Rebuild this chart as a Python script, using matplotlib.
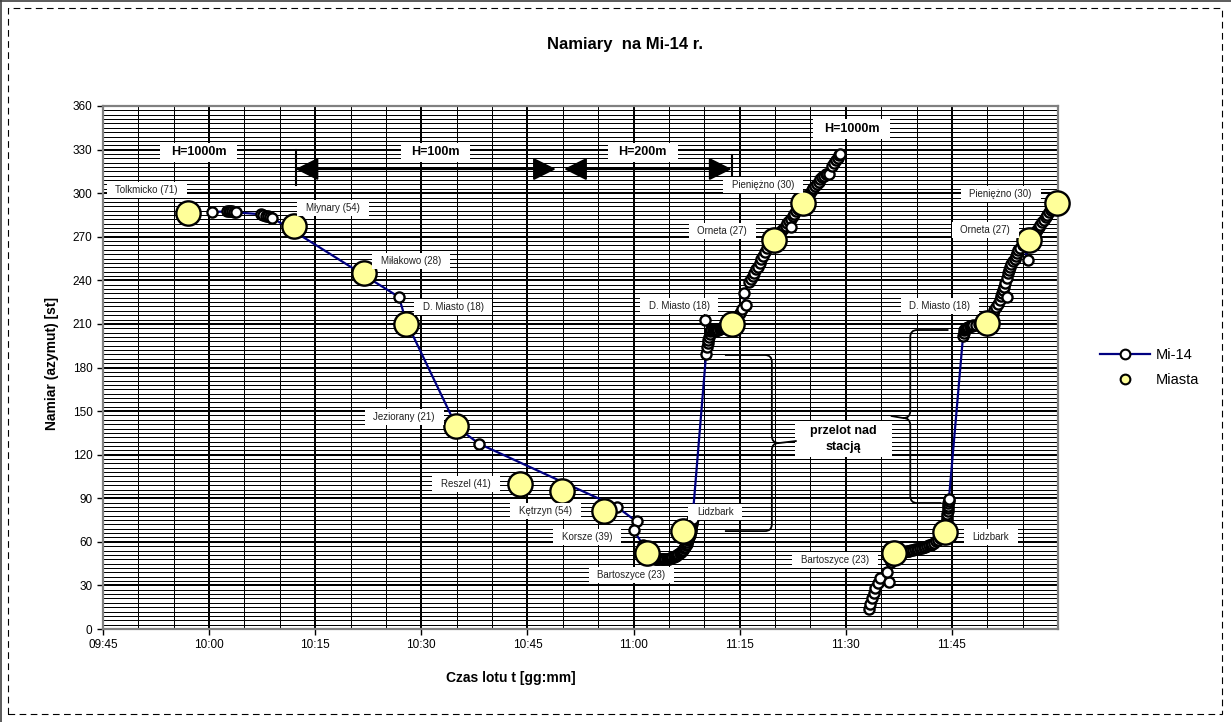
import matplotlib
matplotlib.use("Agg")
import numpy as np
import matplotlib.pyplot as plt
from matplotlib.lines import Line2D
from matplotlib.patches import FancyArrowPatch, Rectangle, PathPatch, ArrowStyle
from matplotlib.path import Path
from matplotlib.transforms import IdentityTransform
from matplotlib.ticker import MultipleLocator, FuncFormatter, FixedLocator

plt.rcParams['font.family'] = ['Liberation Sans', 'DejaVu Sans']

# ---------------- data ----------------
x_tick_labels = ["09:45", "10:00", "10:15", "10:30", "10:45", "11:00", "11:15", "11:30", "11:45"]
x_limits = ["09:45", "12:00"]
y_limits = [0, 360]

city_names = ["Tolkmicko (71)", "Młynary (54)", "Miłakowo (28)", "D. Miasto (18)",
              "Jeziorany (21)", "Reszel (41)", "Kętrzyn (54)", "Korsze (39)",
              "Bartoszyce (23)", "Lidzbark", "D. Miasto (18)", "Orneta (27)",
              "Pieniężno (30)", "Bartoszyce (23)", "Lidzbark", "D. Miasto (18)",
              "Orneta (27)", "Pieniężno (30)"]
city_times = ["09:56:57", "10:12:00", "10:21:52", "10:27:51", "10:34:55", "10:43:56",
              "10:49:57", "10:55:52", "11:01:57", "11:07:02", "11:13:56", "11:19:54",
              "11:23:55", "11:36:50", "11:44:00", "11:49:56", "11:55:57", "11:59:48"]
city_az = [286.5, 277.6, 244.8, 210, 139.7, 99.8, 94.8, 81.2, 52.5, 67.4, 209.7, 267.7,
           293, 52.3, 67, 210.4, 267.5, 293]

# Mi-14 bearings: segment 1 (10:00 - 11:29), break, segment 2 (11:33 - 12:00)
mi14_times_1 = [
    "10:00:24", "10:02:30", "10:02:45", "10:03:00", "10:03:15", "10:03:30", "10:03:45",
    "10:07:20", "10:07:40", "10:08:00", "10:08:20", "10:08:40", "10:08:57",
    "10:26:50", "10:27:50", "10:35:00", "10:38:10", "10:57:40", "11:00:25", "11:00:00",
    "11:01:20",
    "11:02:00", "11:02:10", "11:02:20", "11:02:30", "11:02:40", "11:02:50", "11:03:00",
    "11:03:10", "11:03:20", "11:03:30", "11:03:40", "11:03:50", "11:04:00", "11:04:10",
    "11:04:20", "11:04:30", "11:04:40", "11:04:50", "11:05:00", "11:05:10", "11:05:20",
    "11:05:30", "11:05:40", "11:05:50", "11:06:00", "11:06:10", "11:06:20", "11:06:30",
    "11:06:40", "11:06:50", "11:07:00", "11:07:08", "11:07:15", "11:07:22", "11:07:30",
    "11:07:35", "11:07:40", "11:07:45", "11:07:50", "11:07:55", "11:08:00", "11:08:03",
    "11:08:05", "11:08:08", "11:08:10", "11:08:13", "11:08:15", "11:08:18", "11:08:20",
    "11:10:15", "11:10:25", "11:10:30", "11:10:35", "11:10:40", "11:10:45", "11:10:05",
    "11:10:50", "11:11:00", "11:11:10", "11:11:20", "11:11:30", "11:11:40", "11:11:50",
    "11:12:00", "11:12:10", "11:12:20", "11:12:30", "11:12:40", "11:12:50", "11:13:00",
    "11:13:15", "11:13:30", "11:13:45", "11:14:00", "11:14:20", "11:14:40", "11:15:00",
    "11:15:20", "11:15:50", "11:15:35",
    "11:16:20", "11:16:35", "11:16:50", "11:17:05", "11:17:20", "11:17:35", "11:17:50",
    "11:18:05", "11:18:20", "11:18:35", "11:18:50", "11:19:05", "11:19:20", "11:19:50",
    "11:20:15", "11:20:30", "11:20:45", "11:21:00", "11:21:15", "11:21:30", "11:21:45",
    "11:22:00", "11:22:15", "11:22:30", "11:22:12", "11:22:45", "11:23:00", "11:23:15",
    "11:23:30", "11:23:55", "11:24:10", "11:24:25", "11:24:40", "11:24:55", "11:25:10",
    "11:25:25", "11:25:40", "11:25:55", "11:26:10", "11:26:25", "11:26:40", "11:26:55",
    "11:27:10", "11:27:20", "11:27:35", "11:28:05", "11:28:20", "11:28:35", "11:28:50",
    "11:29:02", "11:29:14",
]
mi14_az_1 = [
    287, 287.5, 287.5, 287.5, 287.5, 287, 286.8,
    285.5, 285, 284.5, 284, 283.5, 283,
    228.5, 212, 139, 127.5, 84, 74, 68,
    58,
    51, 50.5, 50, 49.5, 49, 49, 48.5,
    48.5, 48, 48, 48, 48, 48, 48,
    48, 48, 48.5, 48.5, 48.5, 49, 49,
    49.5, 49.5, 50, 50.5, 51, 51.5, 52,
    53, 53.5, 54.5, 55.5, 56.5, 57.5, 58.5,
    60, 61, 62, 63.5, 65, 66, 67.5,
    68.5, 70, 71, 72.5, 73.5, 75, 76,
    189, 194, 197, 199, 201, 203, 212.5,
    205, 206, 205.5, 205, 205, 205.5, 205.5,
    206, 206.5, 207, 207.5, 208, 208.5, 209,
    209.5, 210, 210.5, 211.5, 213, 215, 217.5,
    220, 223, 231,
    239, 241, 243, 245, 247.5, 249.5, 252,
    254.5, 257, 259.5, 262, 264, 265.5, 267.5,
    270, 271.5, 273, 274.5, 276, 277.5, 279.5,
    281, 282.5, 284, 276.5, 286, 287.5, 289,
    290.5, 293, 295, 296.5, 298, 300, 302,
    303.5, 305, 306.5, 308, 309.5, 311, 312,
    313, 313.2, 313.5, 318.5, 320.5, 322.5, 324.5,
    326, 327,
]
mi14_times_2 = [
    "11:33:14", "11:33:28", "11:33:42", "11:33:56", "11:34:10", "11:34:30", "11:34:50",
    "11:36:03", "11:35:49", "11:36:20",
    "11:37:00", "11:37:15", "11:37:30", "11:37:45", "11:38:00", "11:38:15", "11:38:30",
    "11:38:45", "11:39:00", "11:39:15", "11:39:30", "11:39:45", "11:40:00", "11:40:15",
    "11:40:30", "11:40:45", "11:41:00", "11:41:15", "11:41:30", "11:41:45", "11:42:00",
    "11:42:15", "11:42:30", "11:42:45", "11:43:00", "11:43:15", "11:43:30", "11:43:45",
    "11:44:00", "11:44:05", "11:44:10", "11:44:13", "11:44:15", "11:44:18", "11:44:20",
    "11:44:23", "11:44:25", "11:44:28", "11:44:30", "11:44:33", "11:44:35",
    "11:46:35", "11:46:40", "11:46:45", "11:46:50", "11:47:00", "11:47:10", "11:47:20",
    "11:47:30", "11:47:40", "11:47:50", "11:48:00", "11:48:25", "11:48:50", "11:49:20",
    "11:49:50",
    "11:50:30", "11:50:45", "11:51:00", "11:51:15", "11:51:35", "11:51:45", "11:52:00",
    "11:52:08", "11:52:15", "11:52:23", "11:52:31", "11:52:45", "11:52:50", "11:53:00",
    "11:53:07", "11:53:13", "11:53:25", "11:53:40", "11:53:52", "11:54:05", "11:54:15",
    "11:54:24", "11:54:40", "11:55:00", "11:55:48", "11:55:20", "11:55:54", "11:56:15",
    "11:56:30", "11:56:45", "11:57:00", "11:57:15", "11:57:30", "11:57:45", "11:58:00",
    "11:58:15", "11:58:30", "11:58:45", "11:59:00", "11:59:15", "11:59:30", "11:59:50",
]
mi14_az_2 = [
    14, 17.5, 21, 24.5, 28, 31.5, 35,
    32.6, 39.4, 46,
    52, 52.3, 52.5, 52.8, 53, 53.3, 53.5,
    53.8, 54, 54.3, 54.5, 54.8, 55, 55.3,
    55.5, 55.8, 56.2, 56.6, 57, 57.5, 58,
    58.7, 59.5, 60.5, 61.5, 62.7, 64, 65.5,
    67, 69, 71, 73, 75, 77, 79,
    81, 83, 85, 86.5, 88, 89.5,
    202, 204, 205.5, 206.5, 207, 207.5, 208,
    208.3, 208.5, 208.8, 209, 209.5, 210, 210,
    210.5,
    215, 217, 219.5, 221.5, 224, 226.5, 229,
    231, 233.5, 235.5, 238, 228.3, 241.5, 245,
    247, 249, 251, 253, 255, 257, 259,
    260.8, 262.5, 264, 254, 265.5, 267.5, 269.5,
    271, 273, 274.5, 276.5, 278, 280, 281.5,
    283.5, 285, 287, 288.5, 290, 291.5, 293.5,
]

# label offsets (pixels) of each city label from its point
label_offsets = [(-41, 23), (39, 18), (47, 12), (47, 17), (-52, 9), (-54, 0), (-17, -20),
                 (-17, -26), (-16, -22), (32, 19), (-53, 18), (-52, 9), (-40, 18),
                 (-59, -7), (46, -5), (-47, 17), (-44, 10), (-56, 9)]


def tm(s):
    p = s.split(":")
    return int(p[0]) * 60 + int(p[1]) + (float(p[2]) / 60 if len(p) > 2 else 0)


def padbox(px, py):
    def f(x0, y0, width, height, mutation_size):
        padx = px * mutation_size
        pady = py * mutation_size
        x0 -= padx
        y0 -= pady
        w = width + 2 * padx
        h = height + 2 * pady
        return Path([(x0, y0), (x0 + w, y0), (x0 + w, y0 + h), (x0, y0 + h), (x0, y0)],
                    closed=True)
    return f


W, H = 1231, 722
fig = plt.figure(figsize=(W / 100, H / 100), dpi=100)
ax = fig.add_axes([103 / W, 1 - 629 / H, (1058 - 103) / W, (629 - 106) / H])

ax.set_xlim(tm(x_limits[0]), tm(x_limits[1]))
ax.set_ylim(*y_limits)
ax.xaxis.set_major_locator(FixedLocator([tm(s) for s in x_tick_labels]))
ax.xaxis.set_major_formatter(FuncFormatter(
    lambda v, p: f"{int(round(v)) // 60:02d}:{int(round(v)) % 60:02d}"))
ax.xaxis.set_minor_locator(MultipleLocator(5))
ax.yaxis.set_major_locator(MultipleLocator(30))
ax.yaxis.set_minor_locator(MultipleLocator(3))
ax.set_axisbelow(True)
ax.grid(which='major', color='black', lw=1.4, antialiased=False)
ax.grid(which='minor', color='black', lw=0.6, antialiased=False)
ax.tick_params(which='minor', length=0)
ax.tick_params(which='major', length=4, width=1, direction='out', labelsize=8.5,
               color='black', pad=3.5)
for s in ax.spines.values():
    s.set_color('#808080')
    s.set_linewidth(1.6)

mt = [tm(s) for s in mi14_times_1] + [np.nan] + [tm(s) for s in mi14_times_2]
ma = list(mi14_az_1) + [np.nan] + list(mi14_az_2)
ax.plot(mt, ma, color='#000080', lw=1.6, marker='o', ms=7.3, mfc='white', mec='black',
        mew=1.7, zorder=3, clip_on=False)

ct = [tm(s) for s in city_times]
ax.plot(ct, city_az, ls='none', marker='o', ms=17.5, mfc='#FFFF99', mec='black',
        mew=1.7, zorder=4, clip_on=False)

for name, t, a, (dx, dy) in zip(city_names, ct, city_az, label_offsets):
    ax.annotate(name, (t, a), xytext=(dx, dy), textcoords='offset pixels',
                ha='center', va='center', fontsize=7, color='#202020',
                bbox=dict(boxstyle=padbox(0.9, 0.3), fc='white', ec='none'), zorder=6,
                annotation_clip=False)

# altitude annotations
hbox = dict(boxstyle=padbox(0.85, 0.3), fc='white', ec='none')
for txt, t, a in [("H=1000m", "09:58:30", 328.1), ("H=100m", "10:32:00", 328.1),
                  ("H=200m", "11:01:18", 328.1), ("H=1000m", "11:30:50", 344.0)]:
    ax.text(tm(t), a, txt, ha='center', va='center', fontsize=9, fontweight='bold',
            bbox=hbox, zorder=6)

astyle = ArrowStyle('<|-|>', head_length=14, head_width=7)
for t0, t1 in [("10:12:13", "10:49:01"), ("10:50:11", "11:13:52")]:
    ax.add_patch(FancyArrowPatch((tm(t0), 316.6), (tm(t1), 316.6), arrowstyle=astyle,
                                 mutation_scale=1, color='black', lw=1.5,
                                 shrinkA=0, shrinkB=0, zorder=5, clip_on=False))
ax.add_line(Line2D([tm("10:12:13")] * 2, [329.7, 305.6], color='black', lw=1.5, zorder=5))
ax.add_line(Line2D([tm("11:13:56")] * 2, [326.2, 302.1], color='black', lw=1.5, zorder=5))

# "przelot nad stacją" box
ax.text(tm("11:29:42"), 130.8, "przelot nad\nstacją", ha='center', va='center',
        fontsize=9, fontweight='bold', linespacing=1.55,
        bbox=dict(boxstyle=padbox(1.2, 0.3), fc='white', ec='none'), zorder=6)


def brace(arm_t, bx_t, top, bottom, tip, tip_to_t, arm2_t, r=7):
    """Draw a curly brace in display coordinates."""
    T = ax.transData.transform
    xa, yt = T((tm(arm_t), top))
    xb, yb = T((tm(bx_t), bottom))
    xa2, _ = T((tm(arm2_t), bottom))
    _, ytip = T((tm(bx_t), tip))
    xtip, _ = T((tm(tip_to_t), tip))
    d = 1 if xtip > xb else -1
    verts = [(xa, yt), (xb - d * r, yt), (xb, yt), (xb, yt - r),
             (xb, ytip + r), (xb, ytip), (xb + d * r, ytip),
             (xb, ytip), (xb, ytip - r),
             (xb, yb + r), (xb, yb), (xb - d * r, yb), (xa2, yb)]
    codes = [Path.MOVETO, Path.LINETO, Path.CURVE3, Path.CURVE3,
             Path.LINETO, Path.CURVE3, Path.CURVE3,
             Path.CURVE3, Path.CURVE3,
             Path.LINETO, Path.CURVE3, Path.CURVE3, Path.LINETO]
    fig.add_artist(PathPatch(Path(verts, codes), transform=IdentityTransform(),
                             fill=False, ec='black', lw=1.3, zorder=7))
    fig.add_artist(Line2D([xb + d * r, xtip], [ytip, ytip + 2],
                          transform=IdentityTransform(), color='black', lw=1.3, zorder=7))


brace("11:12:55", "11:19:33", 188.6, 67.4, 128.0, "11:22:56", "11:12:55")
brace("11:44:31", "11:39:07", 205.8, 86.7, 145.2, "11:36:29", "11:43:32")

# legend
handles = [Line2D([], [], color='#000080', lw=1.6, marker='o', ms=7, mfc='white',
                  mec='black', mew=1.5),
           Line2D([], [], ls='none', marker='o', ms=7, mfc='#FFFF99', mec='black', mew=1.5)]
fig.legend(handles, ["Mi-14", "Miasta"], loc='upper left',
           bbox_to_anchor=(1100 / W, 1 - 348 / H), frameon=False, fontsize=10.5,
           handlelength=3.4, handletextpad=0.4, borderaxespad=0, borderpad=0,
           labelspacing=0.75)

# titles
fig.text(625 / W, 1 - 45 / H, "Namiary  na Mi-14 r.", ha='center', va='center',
         fontsize=12, fontweight='bold')
fig.text(52 / W, 1 - 364 / H, "Namiar (azymut) [st]", ha='center', va='center',
         rotation=90, fontsize=10, fontweight='bold')
fig.text(511 / W, 1 - 678 / H, "Czas lotu t [gg:mm]", ha='center', va='center',
         fontsize=10, fontweight='bold')

# outer dashed frame
fig.add_artist(Rectangle((8 / W, 8 / H), (1222 - 8) / W, (714 - 8) / H,
                         transform=fig.transFigure, fill=False, ec='black', lw=0.8,
                         ls=(0, (6, 4))))
fig.add_artist(Line2D([0, 1], [1 - 1 / H, 1 - 1 / H], transform=fig.transFigure,
                      color='#404040', lw=1.2))
fig.add_artist(Line2D([1 / W, 1 / W], [0, 1], transform=fig.transFigure,
                      color='#404040', lw=1.2))

fig.savefig("out.png", dpi=100)
